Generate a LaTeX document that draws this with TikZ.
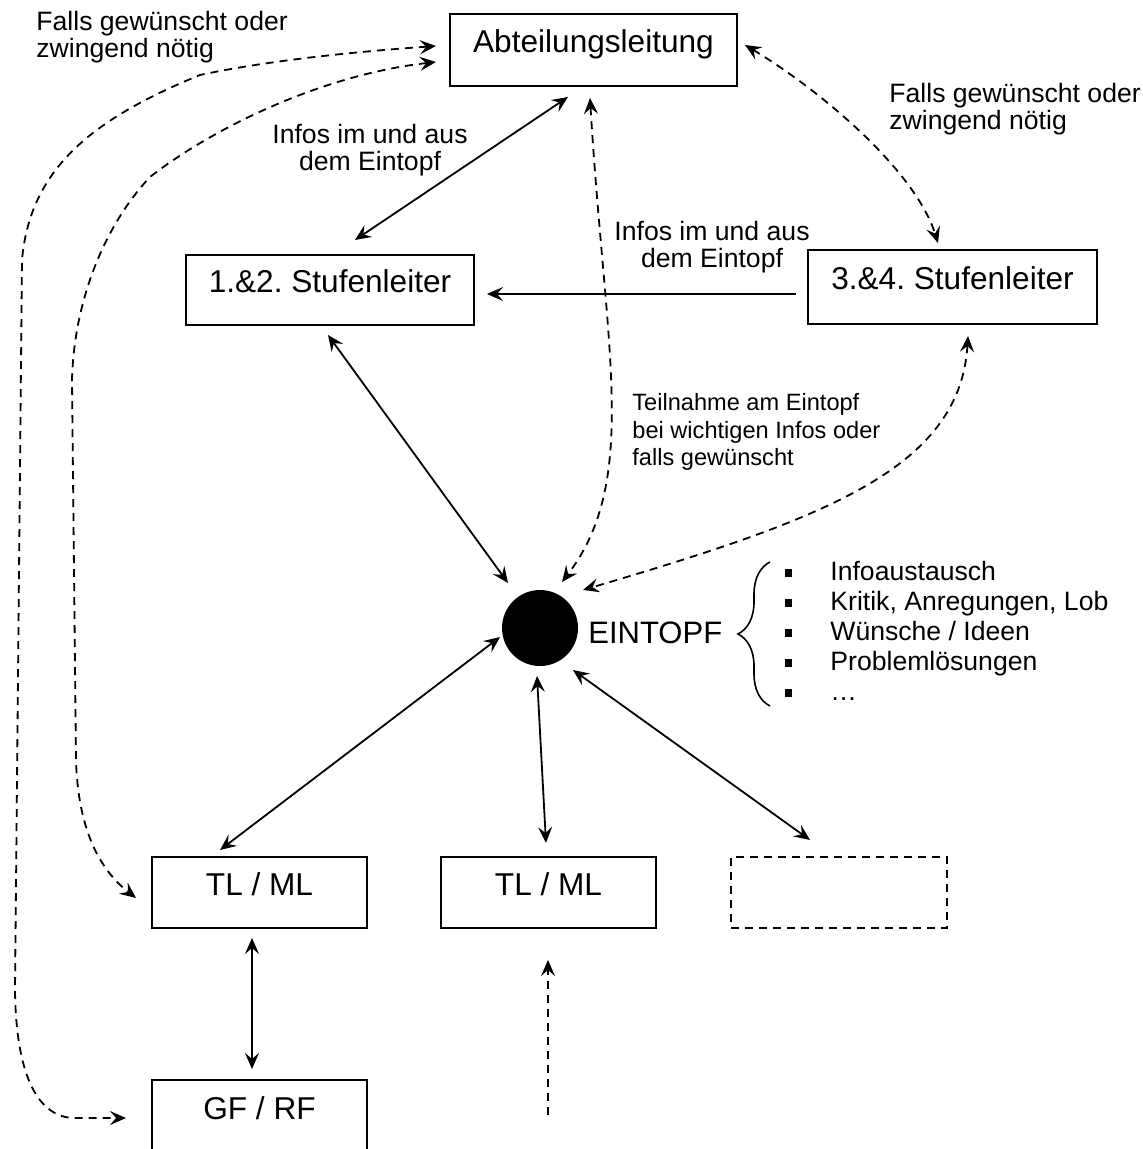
\documentclass[tikz,border=0pt]{standalone}
\usepackage{fontspec}
\setmainfont{Liberation Sans}
\usetikzlibrary{arrows.meta,decorations.pathreplacing}
\frenchspacing
\begin{document}
\begin{tikzpicture}[x=0.5pt,y=-0.5pt,
  >={Stealth[length=8pt,width=7pt,inset=3pt]},
  box/.style={draw,line width=1pt,inner sep=0pt,text height=11.5pt,text depth=8.5pt,font=\fontsize{15.8}{18}\selectfont},
  conn/.style={line width=0.9pt},
  dconn/.style={line width=0.9pt,dash pattern=on 4pt off 3pt},
  lbl/.style={inner sep=0pt,font=\fontsize{13.3}{13.6}\selectfont},
  sml/.style={inner sep=0pt,font=\fontsize{11.8}{13.8}\selectfont}]
\useasboundingbox (0,0) rectangle (1143,1149);
\clip (0,0) rectangle (1143,1149);

% boxes
\node[box,minimum width=143.5pt,minimum height=36pt] (abt) at (593.5,50) {Abteilungsleitung};
\node[box,minimum width=144pt,minimum height=35pt] (st12) at (330,290) {1.\&2. Stufenleiter};
\node[box,minimum width=144.5pt,minimum height=37pt] (st34) at (952.5,287) {3.\&4. Stufenleiter};
\node[box,minimum width=107.5pt,minimum height=35.5pt] (tl1) at (259.5,892.5) {TL / ML};
\node[box,minimum width=107.5pt,minimum height=35.5pt] (tl2) at (548.5,892.5) {TL / ML};
\node[box,dash pattern=on 4pt off 3pt,line width=0.9pt,minimum width=108pt,minimum height=35.5pt] (emp) at (839,892.5) {};
\node[box,minimum width=107.5pt,minimum height=36pt] (gf) at (259.5,1116) {GF / RF};

% Eintopf
\node[circle,fill=black,minimum size=38pt,inner sep=0pt] (pot) at (540,628) {};
\node[anchor=west,inner sep=0pt,font=\fontsize{15.5}{18}\selectfont] (potlbl) at (588,633) {EINTOPF};

% list
\node[anchor=west,inner sep=0pt,font=\fontsize{13.3}{15}\selectfont] (list) at (785,634) {%
\begin{tabular}{@{}l@{\hspace{19pt}}l@{}}
\rule[1.6pt]{3.5pt}{4pt} & Infoaustausch\\
\rule[1.6pt]{3.5pt}{4pt} & Kritik, Anregungen, Lob\\
\rule[1.6pt]{3.5pt}{4pt} & Wünsche / Ideen\\
\rule[1.6pt]{3.5pt}{4pt} & Problemlösungen\\
\rule[1.6pt]{3.5pt}{4pt} & …
\end{tabular}};
\coordinate (brbot) at (770,706);
\coordinate (brtop) at (770,562);
\draw[line width=0.8pt,decorate,decoration={brace,amplitude=16pt}] (brbot) -- (brtop);

% labels
\node[lbl,anchor=west,align=left] (ltl) at (36,37) {Falls gewünscht oder\\zwingend nötig};
\node[lbl,anchor=west,align=left] (ltr) at (889,109) {Falls gewünscht oder\\zwingend nötig};
\node[lbl,align=center] (li1) at (370,150) {Infos im und aus\\dem Eintopf};
\node[lbl,align=center] (li2) at (712,247) {Infos im und aus\\dem Eintopf};
\node[sml,anchor=west,align=left] (lt) at (632,432) {Teilnahme am Eintopf\\bei wichtigen Infos oder\\falls gewünscht};

% connector ends
\coordinate (c1a) at (568,97); \coordinate (c1b) at (355,240);
\coordinate (c2a) at (796,294); \coordinate (c2b) at (487,294);
\coordinate (c3a) at (745,45); \coordinate (c3b) at (938,243);
\coordinate (c4a) at (590,98); \coordinate (c4b) at (562,582);
\coordinate (c5a) at (328,335); \coordinate (c5b) at (508,583);
\coordinate (c6a) at (968,336); \coordinate (c6b) at (583,590);
\coordinate (c7a) at (500,637); \coordinate (c7b) at (220,850);
\coordinate (c8a) at (537,676); \coordinate (c8b) at (546,843);
\coordinate (c9a) at (573,670); \coordinate (c9b) at (810,840);
\coordinate (c10a) at (252,938); \coordinate (c10b) at (252,1069);
\coordinate (c11a) at (548,1115); \coordinate (c11b) at (548,960);
\coordinate (c12a) at (436,46); \coordinate (c12b) at (126,1118);
\coordinate (c13a) at (436,62); \coordinate (c13b) at (136,898);

% connectors
\draw[conn,<->] (c1a) -- (c1b);
\draw[conn,->] (c2a) -- (c2b);
\draw[dconn,<->] (c3a) .. controls (820,90) and (915,170) .. (c3b);
\draw[dconn,<->] (c4a) .. controls (605,350) and (640,480) .. (c4b);
\draw[conn,<->] (c5a) -- (c5b);
\draw[dconn,<->] (c6a) .. controls (960,470) and (820,520) .. (c6b);
\draw[conn,<->] (c7a) -- (c7b);
\draw[conn,<->] (c8a) -- (c8b);
\draw[conn,<->] (c9a) -- (c9b);
\draw[conn,<->] (c10a) -- (c10b);
\draw[dconn,->] (c11a) -- (c11b);
\draw[dconn,<->] (c12a) .. controls (380,50) and (280,58) .. (200,75) .. controls (90,120) and (30,170) .. (22,260) -- (15,990) .. controls (16,1080) and (40,1118) .. (75,1118) -- (c12b);
\draw[dconn,<->] (c13a) .. controls (320,75) and (210,130) .. (150,177) .. controls (105,225) and (74,300) .. (72,380) -- (76,760) .. controls (78,830) and (100,870) .. (c13b);
\end{tikzpicture}
\end{document}
